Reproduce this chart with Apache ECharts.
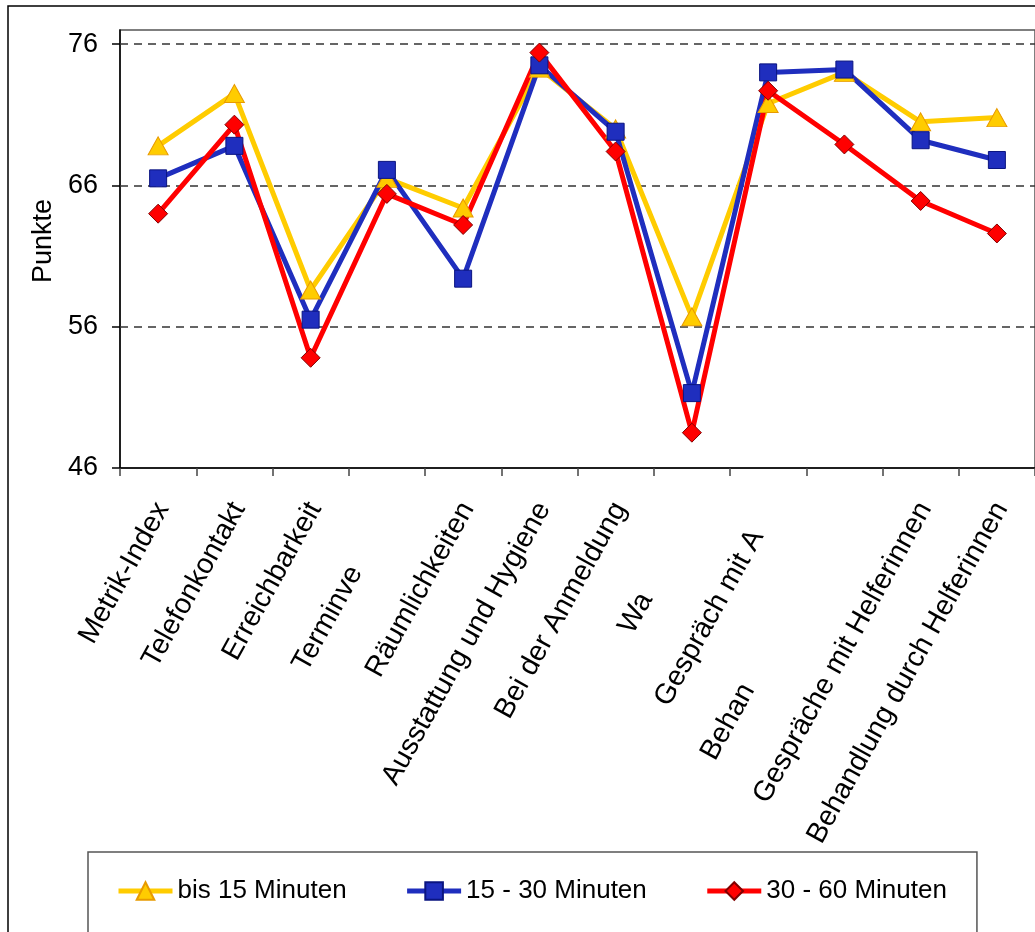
<!DOCTYPE html>
<html>
<head>
<meta charset="utf-8">
<script src="https://cdn.jsdelivr.net/npm/echarts@6/dist/echarts.min.js"></script>
<style>
html,body{margin:0;padding:0;background:#fff;}
#chart{width:1035px;height:932px;}
</style>
</head>
<body>
<div id="chart"></div>
<script>
const categories = ['Metrik-Index','Telefonkontakt','Erreichbarkeit','Terminvergabe','Räumlichkeiten','Ausstattung und Hygiene','Bei der Anmeldung','Wartezeit','Gespräch mit Arzt','Behandlung durch Arzt','Gespräche mit Helferinnen','Behandlung durch Helferinnen'];
const tickLabels = ['Metrik-Index','Telefonkontakt','Erreichbarkeit','Terminve','Räumlichkeiten','Ausstattung und Hygiene','Bei der Anmeldung','Wa','Gespräch mit A','Behan','Gespräche mit Helferinnen','Behandlung durch Helferinnen'];
const yTicks = [46, 56, 66, 76];
const gridValues = [56, 66, 76];
const seriesNames = ['bis 15 Minuten', '15 - 30 Minuten', '30 - 60 Minuten'];
const bis15 = [68.8, 72.5, 58.6, 66.5, 64.4, 74.3, 70.0, 56.7, 71.8, 74.0, 70.5, 70.8];
const m15to30 = [66.5, 68.8, 56.5, 67.1, 59.4, 74.5, 69.8, 51.3, 74.0, 74.2, 69.2, 67.8];
const m30to60 = [64.0, 70.3, 53.8, 65.4, 63.2, 75.4, 68.4, 48.5, 72.7, 68.9, 64.9, 62.6];

const FONT = '"Liberation Sans", Arial, sans-serif';
const LABEL_SIZE = 28.5;
const LABEL_PAD_TOP = 10;
// extra right padding for the clipped label (layout only)
const labelPad = {'Wartezeit': 26};

const chart = echarts.init(document.getElementById('chart'), null, {renderer: 'canvas'});

const option = {
  backgroundColor: '#ffffff',
  animation: false,
  graphic: [{
    type: 'rect', z: 0, silent: true,
    shape: {x: 8, y: 6, width: 1200, height: 1100},
    style: {fill: 'none', stroke: '#000', lineWidth: 1.5}
  }],
  grid: {
    left: 120, top: 30, width: 924, height: 438,
    show: true, borderColor: '#555', borderWidth: 1.5, backgroundColor: 'transparent'
  },
  legend: {
    left: 88, top: 852,
    padding: [26, 30, 60, 28],
    borderColor: '#555', borderWidth: 1.5,
    itemGap: 58, itemWidth: 54, itemHeight: 22,
    lineStyle: {width: 5},
    textStyle: {fontFamily: FONT, fontSize: 26, color: '#000'},
    data: seriesNames
  },
  xAxis: {
    type: 'category',
    data: categories.map(c => labelPad[c] ? {value: c, textStyle: {padding: [LABEL_PAD_TOP, labelPad[c], 0, 0]}} : c),
    boundaryGap: true,
    axisLine: {lineStyle: {color: '#000', width: 1.5}},
    axisTick: {show: true, length: 8, lineStyle: {color: '#444', width: 1.5}},
    axisLabel: {
      interval: 0, rotate: 61, margin: 34,
      align: 'right', verticalAlign: 'middle',
      padding: [LABEL_PAD_TOP, 0, 0, 0],
      fontFamily: FONT, fontSize: LABEL_SIZE, color: '#000',
      formatter: function (value, idx) {
        const vis = tickLabels[idx];
        const hid = value.slice(vis.length);
        return '{v|' + vis + '}' + (hid ? '{h|' + hid + '}' : '');
      },
      rich: {
        v: {fontFamily: FONT, fontSize: LABEL_SIZE, color: '#000'},
        h: {fontFamily: FONT, fontSize: LABEL_SIZE, color: 'rgba(0,0,0,0)'}
      }
    },
    splitLine: {show: false}
  },
  yAxis: {
    type: 'value',
    min: 46, max: 77,
    name: 'Punkte', nameLocation: 'middle', nameGap: 60,
    nameTextStyle: {fontFamily: FONT, fontSize: 27, color: '#000', padding: [0, 0, 0, 16]},
    axisLine: {show: true, lineStyle: {color: '#000', width: 1.5}},
    axisTick: {show: true, length: 8, customValues: yTicks, lineStyle: {color: '#000', width: 1.5}},
    axisLabel: {customValues: yTicks, margin: 22, fontFamily: FONT, fontSize: 27, color: '#000'},
    splitLine: {show: false}
  },
  series: [
    {
      name: seriesNames[0], type: 'line', data: bis15,
      symbol: 'triangle', symbolSize: [20, 18],
      lineStyle: {color: '#FFCC00', width: 5},
      itemStyle: {color: '#FFCC00', borderColor: '#E89A00', borderWidth: 1},
      markLine: {
        silent: true, symbol: ['none', 'none'], z: 1,
        label: {show: false},
        lineStyle: {color: '#333', type: [8, 6], width: 1.5},
        data: gridValues.map(v => ({yAxis: v}))
      }
    },
    {
      name: seriesNames[1], type: 'line', data: m15to30,
      symbol: 'rect', symbolSize: 17,
      lineStyle: {color: '#1F2EBE', width: 5},
      itemStyle: {color: '#1F2EBE', borderColor: '#0A1480', borderWidth: 1}
    },
    {
      name: seriesNames[2], type: 'line', data: m30to60,
      symbol: 'diamond', symbolSize: 19,
      lineStyle: {color: '#FF0000', width: 5},
      itemStyle: {color: '#FF0000', borderColor: '#800000', borderWidth: 1}
    }
  ]
};
chart.setOption(option);
</script>
</body>
</html>
